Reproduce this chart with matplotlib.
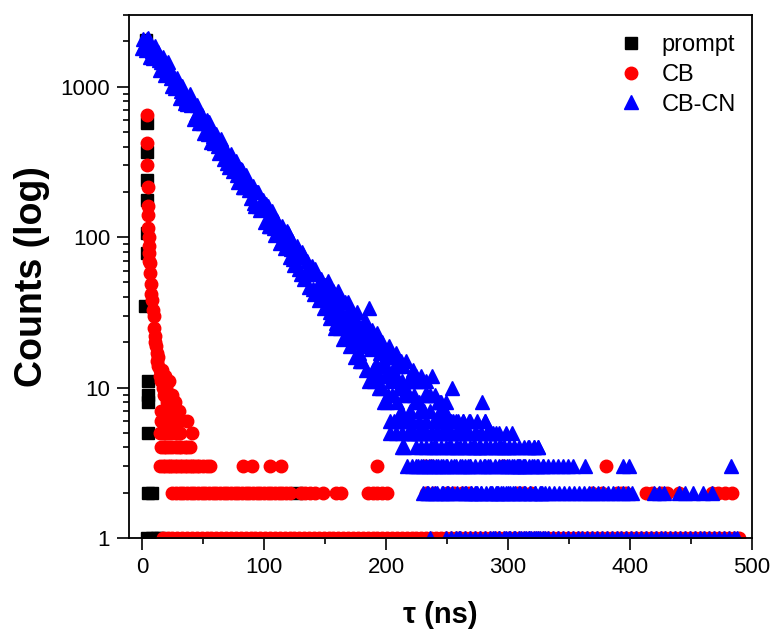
import matplotlib
matplotlib.use("Agg")
import matplotlib.pyplot as plt
from matplotlib.ticker import MultipleLocator, LogLocator, FuncFormatter, NullFormatter

plt.rcParams['font.family'] = ['Liberation Sans', 'DejaVu Sans']

# ---- prompt (IRF) ----
prompt_t = [3.5, 4.0, 4.0, 4.0, 4.0, 3.8, 3.8, 2.5, 5.0, 5.0, 5.0, 5.0, 5.0, 8.0,
            4.0, 8.0, 12.0, 15.0, 127.0]
prompt_n = [2050, 572, 367, 239, 176, 106, 78, 35, 11, 9, 8, 5, 2, 2,
            1, 1, 1, 1, 2]

# ---- CB ----
cb_t = [4.0, 4.2, 4.4, 4.6, 4.8, 5.0, 5.2, 5.4, 5.6, 5.8, 6.0, 6.4, 7.0, 7.4,
        7.8, 8.2, 9.0, 9.6, 10.0, 10.4, 10.8, 11.5, 12.0, 12.5, 13.0, 13.5, 14.5,
        15.0, 15.5, 16.5, 17.0, 18.0, 18.5, 19.0, 20.0, 20.5, 21.0, 22.0, 22.5,
        23.0, 24.0, 25.0, 27.0]
cb_n = [648, 421, 300, 215, 160, 140, 116, 100, 88, 78, 70, 67, 58, 49,
        42, 38, 33, 30, 25, 22, 20, 19, 17, 15, 14, 16, 13,
        12, 11, 13, 10, 11, 9, 12, 10, 8, 9, 11, 8,
        9, 8, 9, 8]
# times of the flat low-count rows (count = 7, 6, 5, 4, 3, 2, 1)
cb_t7 = [16, 18, 20, 22, 24, 26, 28, 30]
cb_t6 = [16, 18, 20, 23, 26, 29, 31, 37]
cb_t5 = [15, 17, 19, 21, 24, 27, 29, 31, 41]
cb_t4 = [16, 18, 20, 22, 25, 28, 30, 32, 35, 37, 39]
cb_t3 = [15, 17, 19, 21, 23, 25, 27, 29, 31, 33, 35, 37, 39, 41, 43, 45, 47, 50,
         53, 56, 83, 90, 105, 114, 193, 232, 237, 296, 380]
cb_t2 = [25, 28, 31, 34, 37, 40, 43, 46, 49, 52, 55, 58, 61, 64, 67, 70, 73, 76,
         79, 82, 85, 88, 91, 94, 97, 100, 103, 106, 109, 112, 115, 118, 121,
         130, 134, 138, 142, 148, 159, 163, 185, 189, 193, 197, 201, 233, 239,
         250, 256, 262, 268, 307, 312, 319, 369, 377, 389, 393, 397, 413, 418,
         425, 430, 440, 467, 472, 478, 484]
cb_t1 = [17, 21, 25, 29, 33, 37, 41, 45, 49, 53, 57, 61, 65, 69, 73, 77, 81, 85,
         89, 93, 97, 101, 105, 109, 113, 117, 121, 125, 129, 133, 137, 141, 145,
         149, 153, 157, 161, 165, 169, 173, 177, 181, 185, 189, 193, 197, 201,
         205, 209, 213, 217, 221, 225, 229, 233, 237, 241, 245, 249, 253, 257,
         261, 265, 269, 273, 277, 281, 285, 289, 293, 297, 301, 305, 309, 313,
         317, 321, 325, 329, 333, 337, 341, 345, 349, 353, 357, 361, 365, 369,
         373, 377, 381, 385, 389, 393, 397, 401, 405, 409, 413, 417, 421, 425,
         429, 433, 437, 441, 445, 449, 453, 457, 461, 465, 469, 473, 477, 481,
         485, 489]

# ---- CB-CN ----
# even channels 0..150 ns
cn_t_even = list(range(0, 151, 2))
cn_n_even = [1816, 1904, 2070, 1885, 1737, 1736, 1693, 1511, 1457, 1315, 1347,
             1246, 1144, 1159, 990, 1019, 944, 947, 820, 822, 756, 783, 650,
             653, 644, 572, 585, 488, 516, 469, 457, 402, 437, 369, 366, 311,
             341, 334, 287, 260, 273, 279, 217, 228, 206, 217, 170, 199, 161,
             169, 153, 165, 118, 139, 115, 130, 115, 93, 110, 91, 106, 83, 72,
             85, 74, 57, 76, 57, 62, 63, 45, 61, 46, 39, 46, 48]
# odd channels 1..149 ns
cn_t_odd = list(range(1, 150, 2))
cn_n_odd = [2068, 1751, 2103, 1587, 1558, 1875, 1714, 1297, 1570, 1206, 1450,
            1289, 1006, 986, 1150, 838, 1015, 779, 763, 889, 813, 615, 751,
            572, 651, 491, 602, 580, 428, 420, 482, 361, 449, 332, 382, 294,
            355, 274, 323, 232, 282, 216, 259, 236, 181, 218, 160, 200, 151,
            178, 127, 162, 119, 149, 103, 129, 91, 119, 85, 110, 74, 95, 65,
            88, 61, 80, 53, 70, 47, 64, 42, 57, 38, 53, 34]
# 1 ns channels 151..330 ns
cn_t_late = list(range(151, 331))
cn_n_late = [43, 39, 48, 32, 37, 41, 33, 40, 27, 36,
             31, 33, 27, 37, 27, 29, 22, 31, 32, 25,
             22, 27, 31, 20, 24, 21, 26, 17, 25, 19,
             22, 20, 24, 13, 20, 34, 21, 18, 13, 19,
             14, 20, 14, 12, 17, 14, 10, 18, 12, 14,
             16, 9, 16, 11, 9, 13, 14, 12, 8, 14,
             10, 7, 11, 14, 9, 10, 6, 11, 9, 7,
             11, 5, 9, 8, 11, 5, 8, 7, 11, 5,
             7, 9, 5, 9, 3, 7, 5, 12, 4, 9,
             5, 6, 3, 7, 8, 5, 3, 6, 8, 3,
             5, 4, 6, 10, 6, 3, 5, 4, 6, 1,
             5, 3, 6, 4, 2, 5, 3, 6, 3, 2,
             4, 4, 2, 5, 2, 4, 4, 2, 8, 3,
             6, 4, 5, 3, 2, 5, 2, 1, 4, 5,
             2, 2, 1, 4, 3, 2, 4, 1, 3, 2,
             4, 1, 3, 2, 4, 1, 3, 3, 2, 3,
             1, 3, 2, 3, 1, 4, 1, 2, 1, 3,
             4, 2, 1, 3, 4, 1, 2, 2, 3, 1]
# extra channels 152.5..250.5 ns
cn_t_mid = [152.5, 154.5, 156.5, 158.5, 160.5, 162.5, 164.5, 166.5, 168.5,
            170.5, 172.5, 174.5, 176.5, 178.5, 180.5, 182.5, 184.5, 186.5,
            188.5, 190.5, 192.5, 194.5, 196.5, 198.5, 200.5, 202.5, 204.5,
            206.5, 208.5, 210.5, 212.5, 214.5, 216.5, 218.5, 220.5, 222.5,
            224.5, 226.5, 228.5, 230.5, 232.5, 234.5, 236.5, 238.5, 240.5,
            242.5, 244.5, 246.5, 248.5, 250.5]
cn_n_mid = [51, 29, 44, 25, 44, 25, 21, 37, 37, 19, 32, 16, 32, 15, 15, 28, 25,
            11, 24, 11, 23, 10, 20, 8, 8, 19, 16, 6, 17, 6, 15, 4, 15, 5, 5, 13,
            12, 3, 12, 3, 11, 2, 9, 3, 2, 8, 8, 2, 7, 2]
cn_t6 = [203, 209, 215, 221, 227, 233, 239, 245, 251, 257, 263, 269, 275, 281]
cn_t5 = [203, 208, 213, 218, 223, 228, 233, 238, 243, 248, 253, 258, 263, 268,
         273, 278, 283, 288, 293, 298, 303]
cn_t4 = [213, 225, 229, 233, 237, 241, 245, 249, 253, 257, 261, 265, 269, 273,
         277, 281, 285, 289, 293, 297, 301, 305, 309, 313, 317, 321, 325]
cn_t3 = [217, 221, 225, 229, 233, 237, 241, 245, 249, 253, 257, 261, 265, 269,
         273, 277, 281, 285, 289, 293, 297, 301, 305, 309, 313, 317, 321, 325,
         329, 333, 337, 341, 345, 349, 353, 363, 394, 399, 483]
cn_t2 = [230, 234, 238, 242, 246, 250, 254, 258, 262, 266, 270, 274, 278, 282,
         286, 290, 294, 298, 302, 306, 310, 314, 318, 322, 326, 330, 334, 338,
         342, 346, 350, 354, 358, 362, 366, 370, 374, 378, 382, 386, 390, 394,
         398, 402, 420, 424, 428, 440, 445, 452, 460, 467]
cn_t1 = [236, 249, 253, 257, 261, 265, 269, 273, 277, 281, 285, 289, 293, 297,
         301, 305, 309, 313, 317, 321, 325, 329, 333, 337, 341, 345, 349, 353,
         357, 361, 365, 369, 373, 377, 381, 385, 389, 393, 397, 401, 405, 409,
         413, 417, 421, 425, 429, 433, 437, 441, 445, 449, 453, 457, 461, 465,
         469, 473, 477, 481, 485, 488]


def with_rows(t, n, rows):
    # append the flat rows of low counts
    t = list(t)
    n = list(n)
    for level, times in rows:
        t += times
        n += [level] * len(times)
    return t, n


cb_x, cb_y = with_rows(cb_t, cb_n, [(7, cb_t7), (6, cb_t6), (5, cb_t5), (4, cb_t4),
                                   (3, cb_t3), (2, cb_t2), (1, cb_t1)])
cn_x, cn_y = with_rows(cn_t_even + cn_t_odd + cn_t_late + cn_t_mid,
                       cn_n_even + cn_n_odd + cn_n_late + cn_n_mid,
                       [(6, cn_t6), (5, cn_t5), (4, cn_t4),
                        (3, cn_t3), (2, cn_t2), (1, cn_t1)])

fig = plt.figure(figsize=(7.78, 6.33), dpi=100)
ax = fig.add_axes([0.1658, 0.150, 0.8008, 0.8263])

ax.plot(prompt_t, prompt_n, 's', color='black', ms=8, mec='black', label='prompt')
ax.plot(cb_x, cb_y, 'o', color='red', ms=9, mec='red', label='CB')
ax.plot(cn_x, cn_y, '^', color='blue', ms=9.5, mec='blue', label='CB-CN')

ax.set_yscale('log')
ax.set_xlim(-10.6, 500)
ax.set_ylim(1, 3000)

ax.xaxis.set_major_locator(MultipleLocator(100))
ax.xaxis.set_minor_locator(MultipleLocator(50))
ax.yaxis.set_major_locator(LogLocator(base=10))
ax.yaxis.set_minor_locator(LogLocator(base=10, subs=range(2, 10)))
ax.yaxis.set_major_formatter(FuncFormatter(lambda v, p: '%g' % v))
ax.yaxis.set_minor_formatter(NullFormatter())

ax.tick_params(which='major', direction='out', length=8.5, width=1.2,
               labelsize=16, pad=5, top=False, right=False)
ax.tick_params(which='minor', direction='out', length=4.5, width=1.2,
               top=False, right=False)
for s in ax.spines.values():
    s.set_linewidth(1.3)

ax.set_xlabel('τ (ns)', fontsize=21, fontweight='bold', labelpad=17)
ax.set_ylabel('Counts (log)', fontsize=27, fontweight='bold', labelpad=8)

ax.legend(loc='upper right', bbox_to_anchor=(1.008, 1.004), frameon=False,
          fontsize=17, handlelength=1.0, handletextpad=0.8, labelspacing=0.33)

fig.savefig('out.png', dpi=100, facecolor='white')
